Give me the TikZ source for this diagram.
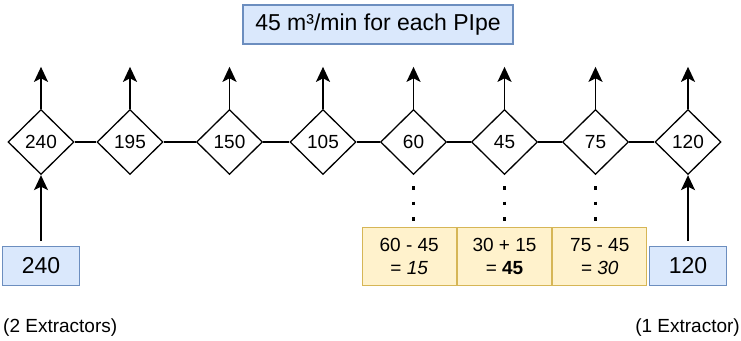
\documentclass[tikz,border=0pt]{standalone}
\usepackage{fontspec}
\setmainfont{Liberation Sans}
\usetikzlibrary{arrows.meta,positioning,shapes.geometric}
\definecolor{ink}{HTML}{000000}
\definecolor{bfill}{HTML}{DAE8FC}
\definecolor{bdraw}{HTML}{6C8EBF}
\definecolor{yfill}{HTML}{FFF2CC}
\definecolor{ydraw}{HTML}{D6B656}
\tikzset{
  valve/.style={diamond,aspect=1,draw=ink,fill=white,minimum width=66pt,minimum height=65pt,
    inner sep=0pt,line width=1.3pt,text=ink,font=\fontsize{19}{22}\selectfont},
  src/.style={rectangle,draw=bdraw,fill=bfill,minimum width=77pt,minimum height=39pt,
    inner sep=0pt,line width=1.3pt,text=ink,font=\fontsize{23}{27}\selectfont},
  head/.style={src,minimum width=270pt},
  eq/.style={rectangle,draw=ydraw,fill=yfill,minimum width=94pt,minimum height=58pt,
    inner sep=0pt,align=center,line width=1.3pt,text=ink,font=\fontsize{19}{23}\selectfont},
  pipe/.style={line width=1.3pt,color=ink},
  flow/.style={-{Stealth[length=15pt,width=14pt,inset=3.5pt]},line width=1.5pt,color=ink},
  tap/.style={line width=3.5pt,color=ink,dash pattern=on 3.5pt off 12pt,dash phase=4.5pt},
  lbl/.style={font=\fontsize{19}{22}\selectfont,text=ink,inner sep=0pt}
}
\begin{document}
\begin{tikzpicture}[x=1pt,y=-1pt]
  \useasboundingbox (0,0) rectangle (741,340);
  \node[head] (hd) at (378,24.5) {45 m³/min for each PIpe};
  % valves along the pipe
  \foreach \i/\x/\v in {1/41/240,2/130/195,3/229.5/150,4/323/105,5/413.5/60,6/504.5/45,7/595.5/75,8/688/120}{
    \node[valve] (d\i) at (\x,142) {\v};
    \coordinate (u\i) at ([yshift=42pt]d\i.north);
    \draw[flow] (d\i) -- (u\i);
  }
  \foreach \a/\b in {1/2,2/3,3/4,4/5,5/6,6/7,7/8}
    \draw[pipe] (d\a) -- (d\b);
  % extractors
  \node[src,below=70.5pt of d1] (s1) {240};
  \node[src,below=70.5pt of d8] (s8) {120};
  \draw[flow,shorten <=4.5pt] (s1) -- (d1);
  \draw[flow,shorten <=4.5pt] (s8) -- (d8);
  % balance
  \node[eq,below=51.5pt of d6] (y2) {30 + 15\\= \textbf{45}};
  \node[eq,left=0pt of y2] (y1) {60 - 45\\= \textit{15}};
  \node[eq,right=0pt of y2] (y3) {75 - 45\\= \textit{30}};
  \draw[tap] (d5.south) -- (d5.south |- y1.north);
  \draw[tap] (d6.south) -- (d6.south |- y2.north);
  \draw[tap] (d7.south) -- (d7.south |- y3.north);
  \node[lbl,anchor=west] (n1) at (3,328) {(2 Extractors)};
  \node[lbl,anchor=east] (n8) at (740,328) {(1 Extractor)};
\end{tikzpicture}
\end{document}
